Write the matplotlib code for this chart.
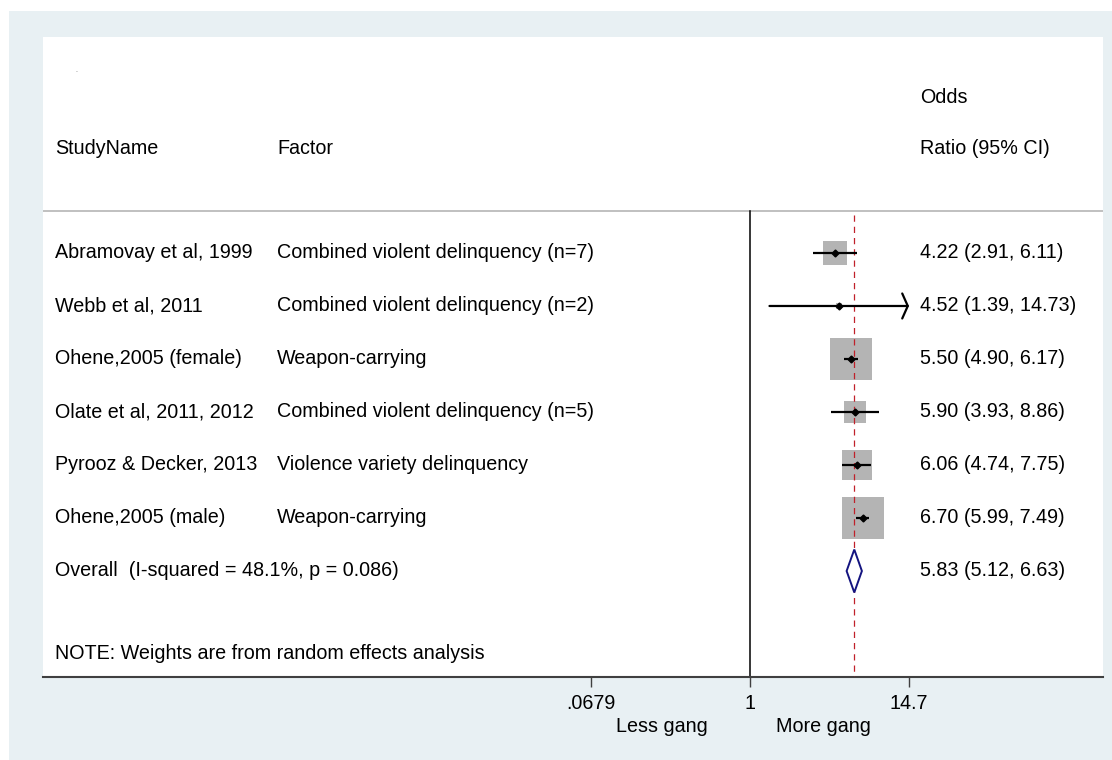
import numpy as np
import matplotlib
matplotlib.use("Agg")
import matplotlib.pyplot as plt
from matplotlib.patches import Rectangle, Polygon
from matplotlib.transforms import blended_transform_factory

plt.rcParams['font.family'] = ['Liberation Sans', 'DejaVu Sans']

# ---------------- data ----------------
studies = ["Abramovay et al, 1999", "Webb et al, 2011", "Ohene,2005 (female)",
           "Olate et al, 2011, 2012", "Pyrooz & Decker, 2013", "Ohene,2005 (male)"]
factors = ["Combined violent delinquency (n=7)", "Combined violent delinquency (n=2)",
           "Weapon-carrying", "Combined violent delinquency (n=5)",
           "Violence variety delinquency", "Weapon-carrying"]
odds = [4.22, 4.52, 5.50, 5.90, 6.06, 6.70]
ci_low = [2.91, 1.39, 4.90, 3.93, 4.74, 5.99]
ci_high = [6.11, 14.73, 6.17, 8.86, 7.75, 7.49]
weights = [10.4, 0.65, 31.9, 8.8, 16.3, 31.9]
overall = 5.83
overall_low = 5.12
overall_high = 6.63
overall_label = "Overall  (I-squared = 48.1%, p = 0.086)"
note = "NOTE: Weights are from random effects analysis"
tick_vals = [0.0679, 1, 14.7]
tick_labels = [".0679", "1", "14.7"]

W, H = 1112, 760
fig = plt.figure(figsize=(W / 100, H / 100), dpi=100, facecolor='white')
bg = '#E8F0F3'
bgrect = Rectangle((9 / W, 0), (W - 9) / W, (H - 11) / H,
                   transform=fig.transFigure, facecolor=bg,
                   edgecolor='none', zorder=-10)
fig.patches.append(bgrect)

ax_l, ax_r, ax_t, ax_b = 43, 1103, 37, 677
ax = fig.add_axes([ax_l / W, (H - ax_b) / H, (ax_r - ax_l) / W, (ax_b - ax_t) / H])
ax.set_zorder(1)
ax.set_facecolor('white')

fs = 14.2

# x scale: log, 1 at px 750, 14.7 at px 909
x_one = 750
ppl = (909 - 750) / np.log(14.7)
ax.set_xscale('log')
ax.set_xlim(np.exp(-(x_one - ax_l) / ppl), np.exp((ax_r - x_one) / ppl))
ax.set_ylim(9.0, -3.075)

for s in ['left', 'right', 'top']:
    ax.spines[s].set_visible(False)
ax.spines['bottom'].set_color('#404040')
ax.spines['bottom'].set_linewidth(1.5)
ax.set_yticks([])
ax.set_xticks(tick_vals)
ax.set_xticklabels(tick_labels)
ax.minorticks_off()
ax.tick_params(axis='x', direction='out', length=7, width=1, color='#404040',
               labelsize=fs, pad=5)

rows = np.arange(1, len(studies) + 1)
y_over = len(studies) + 1
y_line = 0.208

# header separator line
ax.axhline(y_line, color='#BBBBBB', lw=1.3, zorder=1)
# null line
ax.plot([1, 1], [y_line, 9.0], color='black', lw=1.1, zorder=2, clip_on=False)
# overall dashed line
ax.plot([overall, overall], [y_line + 0.07, 9.0], color='#C0202A', lw=0.9,
        dashes=[5, 4], zorder=4)

xmax = tick_vals[-1]
# boxes
k = 42 / np.sqrt(max(weights))  # px per sqrt(weight)
sizes = [(k * np.sqrt(w) * 0.72) ** 2 for w in weights]
ax.scatter(odds, rows, s=sizes, marker='s', color='#B4B4B4', edgecolors='none', zorder=3)

for y, o, lo, hi in zip(rows, odds, ci_low, ci_high):
    if hi > xmax:
        ax.annotate('', xy=(xmax, y), xytext=(lo, y),
                    arrowprops=dict(arrowstyle='->,head_length=0.4,head_width=0.9',
                                    lw=1.6, color='black', shrinkA=0, shrinkB=0,
                                    mutation_scale=10), zorder=5)
    else:
        ax.plot([lo, hi], [y, y], color='black', lw=1.6, zorder=5, solid_capstyle='butt')
ax.plot(odds, rows, 'D', color='black', markersize=3.5, zorder=6)

# overall diamond
dh = 0.405
ax.add_patch(Polygon([[overall_low, y_over], [overall, y_over - dh],
                      [overall_high, y_over], [overall, y_over + dh]],
                     closed=True, facecolor='white', edgecolor='#141480', lw=1.4, zorder=6))

# text columns
tr = blended_transform_factory(ax.transAxes, ax.transData)
x_study = (55 - ax_l) / (ax_r - ax_l)
x_factor = (277 - ax_l) / (ax_r - ax_l)
x_or = (920 - ax_l) / (ax_r - ax_l)

ax.text(x_study, -0.98, "StudyName", transform=tr, fontsize=fs, va='center')
ax.text(x_factor, -0.98, "Factor", transform=tr, fontsize=fs, va='center')
ax.text(x_or, -0.98, "Ratio (95% CI)", transform=tr, fontsize=fs, va='center')
ax.text(x_or, -1.94, "Odds", transform=tr, fontsize=fs, va='center')
ax.text((75 - ax_l) / (ax_r - ax_l), -2.45, ".", transform=tr, fontsize=5,
        color='#666666', va='center')

for y, s, f, o, lo, hi in zip(rows, studies, factors, odds, ci_low, ci_high):
    ax.text(x_study, y, s, transform=tr, fontsize=fs, va='center')
    ax.text(x_factor, y, f, transform=tr, fontsize=fs, va='center')
    ax.text(x_or, y, f"{o:.2f} ({lo:.2f}, {hi:.2f})", transform=tr, fontsize=fs, va='center')

ax.text(x_study, y_over, overall_label, transform=tr, fontsize=fs, va='center')
ax.text(x_or, y_over, f"{overall:.2f} ({overall_low:.2f}, {overall_high:.2f})",
        transform=tr, fontsize=fs, va='center')
ax.text(x_study, 8.566, note, transform=tr, fontsize=fs, va='center')

# direction labels
fig.text(662 / W, 1 - 727 / H, "Less gang", ha='center', va='center', fontsize=fs)
fig.text(823 / W, 1 - 727 / H, "More gang", ha='center', va='center', fontsize=fs)

fig.savefig('out.png', dpi=100, facecolor=fig.get_facecolor())
